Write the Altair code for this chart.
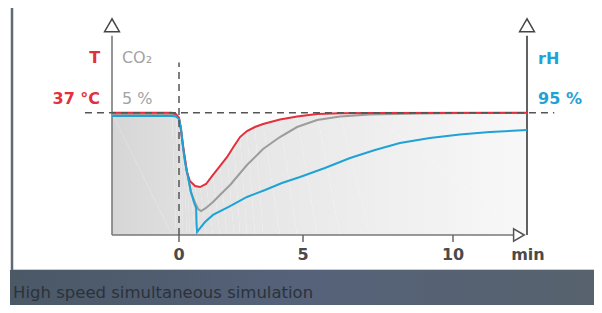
import altair as alt
import pandas as pd

# ---- data (minutes, level in % of set point; 100 = set point) ----
t_red = [-2.7, -0.28, -0.12, 0.0, 0.08, 0.16, 0.32, 0.44, 0.65, 0.85, 1.09, 1.37, 1.65, 1.94,
         2.22, 2.46, 2.74, 3.06, 3.39, 4.07, 4.76, 5.47, 6.23, 7.23, 12.47]
v_red = [100, 100, 98.9, 95.7, 85.9, 73.6, 51.5, 44.2, 40.1, 39.2, 41.7, 49.1, 56.4, 63.8,
         72.8, 80.1, 85.0, 88.3, 90.8, 94.4, 96.9, 98.9, 99.5, 99.8, 100]

t_gray = [-2.7, -0.28, -0.12, 0.0, 0.08, 0.16, 0.32, 0.48, 0.65, 0.77, 0.89, 1.09, 1.37, 1.73,
          2.06, 2.74, 3.39, 4.07, 4.76, 5.47, 6.23, 7.23, 8.9, 10.57, 12.47]
v_gray = [98.5, 98.5, 98.1, 95.7, 85.9, 72.0, 51.5, 35.2, 26.2, 21.3, 19.6, 22.1, 27.0, 34.3,
          40.9, 57.2, 70.3, 80.1, 88.3, 94.0, 96.9, 98.5, 99.3, 99.8, 99.8]

t_blue = [-2.7, -0.28, -0.12, 0.0, 0.08, 0.16, 0.24, 0.36, 0.48, 0.6, 0.69, 0.71, 0.73, 0.85,
          1.05, 1.37, 2.06, 2.74, 3.47, 4.15, 4.88, 5.73, 6.57, 7.4, 8.23, 9.23, 10.23, 11.23, 12.47]
v_blue = [97.3, 97.3, 96.9, 94.9, 87.5, 72.0, 59.7, 48.2, 35.2, 27.0, 22.1, 8.2, 2.5, 5.7,
          10.6, 16.4, 23.7, 31.1, 36.8, 42.5, 47.4, 54.8, 63.0, 69.5, 75.2, 79.3, 82.2, 84.2, 85.9]

tick_values = [0, 5, 10]
tick_labels = ["0", "5", "10"]
x_domain = [-2.7, 0, 5, 10, 12.47]
x_range = [0, 67, 191, 341, 415]
y_domain = [0, 175]

RED = "#e2303c"
GRAY = "#9c9c9c"
BLUE = "#1fa2d6"
FONT = "DejaVu Sans"

red_df = pd.DataFrame({"t": t_red, "v": v_red, "i": range(len(t_red))})
gray_df = pd.DataFrame({"t": t_gray, "v": v_gray, "i": range(len(t_gray))})
blue_df = pd.DataFrame({"t": t_blue, "v": v_blue, "i": range(len(t_blue))})

xs = alt.Scale(domain=x_domain, range=x_range, nice=False, zero=False)
ys = alt.Scale(domain=y_domain, nice=False, zero=False)
X = alt.X("t:Q", scale=xs, axis=None)
Y = alt.Y("v:Q", scale=ys, axis=None)

one = pd.DataFrame({"a": [0]})

# bottom caption band and left frame line
band = alt.Chart(one).mark_rect(
    color=alt.Gradient(gradient="linear", x1=0, x2=1, y1=0, y2=0,
                       stops=[alt.GradientStop(color="#4b5866", offset=0),
                              alt.GradientStop(color="#55627a", offset=0.5),
                              alt.GradientStop(color="#57626d", offset=1)])
).encode(x=alt.value(-102), x2=alt.value(482), y=alt.value(249), y2=alt.value(284))

band_edge = alt.Chart(one).mark_rule(color="#c9ced3", strokeWidth=1).encode(
    x=alt.value(-100), x2=alt.value(482), y=alt.value(248.5))

frame = alt.Chart(one).mark_rule(color="#5f6a76", strokeWidth=2.5).encode(
    x=alt.value(-100), y=alt.value(-20), y2=alt.value(249))

caption = alt.Chart(pd.DataFrame({"s": ["High speed simultaneous simulation"]})).mark_text(
    align="left", baseline="alphabetic", font=FONT, fontSize=16.5, color="#2b323a"
).encode(x=alt.value(-99), y=alt.value(277), text="s:N")

# shaded area under T curve
area = alt.Chart(red_df).mark_area(
    color=alt.Gradient(gradient="linear", x1=0, x2=1, y1=0, y2=0,
                       stops=[alt.GradientStop(color="#d6d6d6", offset=0),
                              alt.GradientStop(color="#e4e4e4", offset=0.25),
                              alt.GradientStop(color="#f8f8f8", offset=1)])
).encode(x=X, y=Y, order="i:Q")

# axes lines
axes_df = pd.DataFrame({"t": [-2.7, 12.47], "v0": [0, 0], "v1": [163, 163]})
left_axis = alt.Chart(axes_df.iloc[[0]]).mark_rule(color="#7c7c7c", strokeWidth=1.6).encode(
    x=X, y=alt.Y("v0:Q", scale=ys, axis=None), y2="v1:Q")
right_axis = alt.Chart(axes_df.iloc[[1]]).mark_rule(color="#3a3a3a", strokeWidth=1.6).encode(
    x=X, y=alt.Y("v0:Q", scale=ys, axis=None), y2="v1:Q")
bottom_df = pd.DataFrame({"t0": [-2.7], "t1": [12.3], "v": [0]})
bottom_axis = alt.Chart(bottom_df).mark_rule(color="#777777", strokeWidth=1.6).encode(
    x=alt.X("t0:Q", scale=xs, axis=None), x2="t1:Q", y=Y)

# ticks and tick labels
ticks_df = pd.DataFrame({"t": tick_values, "v0": [0] * 3, "v1": [-5.7] * 3,
                         "vl": [-20.4] * 3, "s": tick_labels})
ticks = alt.Chart(ticks_df).mark_rule(color="#666666", strokeWidth=1.5).encode(
    x=X, y=alt.Y("v0:Q", scale=ys, axis=None), y2="v1:Q")
tick_txt = alt.Chart(ticks_df).mark_text(
    align="center", baseline="alphabetic", font=FONT, fontSize=16, fontWeight="bold", color="#4a4a4a"
).encode(x=X, y=alt.Y("vl:Q", scale=ys, axis=None), text="s:N")

# arrows
up_df = pd.DataFrame({"t": [-2.7, 12.47], "v": [171.5, 171.5]})
up_arrows = alt.Chart(up_df).mark_point(shape="triangle-up", filled=True, fill="white",
                                        stroke="#444444", strokeWidth=1.5, size=220, opacity=1).encode(x=X, y=Y)
right_arrow = alt.Chart(pd.DataFrame({"t": [12.2], "v": [0]})).mark_point(
    shape="triangle-right", filled=True, fill="white", stroke="#555555", strokeWidth=1.5,
    size=150, opacity=1).encode(x=X, y=Y)

# lines
gray_line = alt.Chart(gray_df).mark_line(color=GRAY, strokeWidth=2).encode(x=X, y=Y, order="i:Q")
red_line = alt.Chart(red_df).mark_line(color=RED, strokeWidth=2).encode(x=X, y=Y, order="i:Q")
blue_line = alt.Chart(blue_df).mark_line(color=BLUE, strokeWidth=2).encode(x=X, y=Y, order="i:Q")

# dashed guides
hdash = alt.Chart(pd.DataFrame({"t0": [-3.79], "t1": [13.38], "v": [100]})).mark_rule(
    color="#555555", strokeWidth=1.5, strokeDash=[7, 5]).encode(
    x=alt.X("t0:Q", scale=xs, axis=None), x2="t1:Q", y=Y)
vdash = alt.Chart(pd.DataFrame({"t": [0], "v0": [0], "v1": [141]})).mark_rule(
    color="#555555", strokeWidth=1.5, strokeDash=[7, 5]).encode(
    x=X, y=alt.Y("v0:Q", scale=ys, axis=None), y2="v1:Q")

# labels
red_txt = alt.Chart(pd.DataFrame({"t": [-3.18, -3.18], "v": [140.5, 107.1], "s": ["T", "37 °C"]})).mark_text(
    align="right", baseline="alphabetic", font=FONT, fontSize=16, fontWeight="bold", color=RED
).encode(x=X, y=Y, text="s:N")
gray_txt = alt.Chart(pd.DataFrame({"t": [-2.3, -2.3], "v": [140.5, 107.1], "s": ["CO₂", "5 %"]})).mark_text(
    align="left", baseline="alphabetic", font=FONT, fontSize=16, color="#a3a3a3"
).encode(x=X, y=Y, text="s:N")
blue_txt = alt.Chart(pd.DataFrame({"t": [12.84, 12.84], "v": [140, 107.1], "s": ["rH", "95 %"]})).mark_text(
    align="left", baseline="alphabetic", font=FONT, fontSize=16, fontWeight="bold", color=BLUE
).encode(x=X, y=Y, text="s:N")
min_txt = alt.Chart(pd.DataFrame({"t": [12.5], "v": [-20.4], "s": ["min"]})).mark_text(
    align="center", baseline="alphabetic", font=FONT, fontSize=16, fontWeight="bold", color="#4a4a4a"
).encode(x=X, y=Y, text="s:N")

chart = alt.layer(
    band, band_edge, frame, caption, area, bottom_axis, ticks, left_axis, right_axis,
    gray_line, red_line, blue_line, hdash, vdash, up_arrows, right_arrow,
    tick_txt, red_txt, gray_txt, blue_txt, min_txt
).properties(
    width=415, height=214,
    autosize=alt.AutoSizeParams(type="none"),
    padding={"left": 104, "top": 13, "right": 67, "bottom": 70},
    background="white"
).configure_view(stroke=None)

chart.save("out.html", embed_options={"renderer": "svg", "actions": False})
